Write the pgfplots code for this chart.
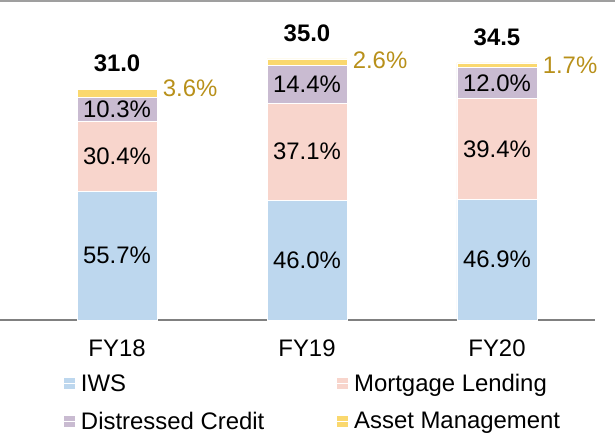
\documentclass[border=0pt]{standalone}
\usepackage{pgfplots}
\pgfplotsset{compat=1.18}
\usepackage{fontspec}
\setmainfont{Liberation Sans}
\definecolor{cIWS}{HTML}{BDD7EE}
\definecolor{cML}{HTML}{F8D5CC}
\definecolor{cDC}{HTML}{C9BBD1}
\definecolor{cAM}{HTML}{FAD86E}
\definecolor{cGold}{HTML}{B8901A}
\newcommand{\fs}{\fontsize{24}{28}\selectfont}
\begin{document}
\begin{tikzpicture}
\useasboundingbox (0,0) rectangle (615bp,433bp);
\draw[gray!75, line width=1.5bp] (0,432.2bp) -- (615bp,432.2bp);
\begin{axis}[
  at={(0bp,113bp)}, anchor=south west,
  scale only axis, width=595bp, height=300bp,
  xmin=-0.616, xmax=2.516, ymin=0, ymax=40.27,
  ybar stacked, bar width=80bp,
  hide y axis,
  axis x line*=bottom,
  x axis line style={gray, line width=1.2bp, -},
  xtick={0,1,2}, xticklabels={FY18,FY19,FY20},
  major tick length=0pt,
  xticklabel style={font=\fs, yshift=-16bp},
  legend columns=2,
  legend style={draw=none, fill=none, at={(63bp,-52bp)}, anchor=north west,
    font=\fs, inner sep=0pt, row sep=15bp,
    /tikz/every even column/.append style={column sep=70bp}},
  legend cell align=left,
  legend image code/.code={\fill[#1] (0bp,-6bp) rectangle (12bp,6bp); \path (0bp,0bp) -- (15bp,0bp);},
  clip=false,
]
\addplot[fill=cIWS, draw=white, line width=0.8bp] coordinates {(0,17.267) (1,16.1) (2,16.181)};
\addlegendentry{IWS}
\addplot[fill=cML, draw=white, line width=0.8bp] coordinates {(0,9.424) (1,12.985) (2,13.593)};
\addlegendentry{Mortgage Lending}
\addplot[fill=cDC, draw=white, line width=0.8bp] coordinates {(0,3.193) (1,5.04) (2,4.14)};
\addlegendentry{Distressed Credit}
\addplot[fill=cAM, draw=white, line width=0.8bp] coordinates {(0,1.116) (1,0.91) (2,0.5865)};
\addlegendentry{Asset Management}
\coordinate (a1) at (axis cs:0,8.63);
\coordinate (a2) at (axis cs:0,21.98);
\coordinate (a3) at (axis cs:0,28.29);
\coordinate (b1) at (axis cs:1,8.05);
\coordinate (b2) at (axis cs:1,22.59);
\coordinate (b3) at (axis cs:1,31.6);
\coordinate (c1) at (axis cs:2,8.09);
\coordinate (c2) at (axis cs:2,22.98);
\coordinate (c3) at (axis cs:2,31.84);
\coordinate (a4) at (axis cs:0.24,31.1);
\coordinate (b4) at (axis cs:1.24,34.9);
\coordinate (c4) at (axis cs:2.24,34.2);
\coordinate (a5) at (axis cs:0,33.28);
\coordinate (b5) at (axis cs:1,37.3);
\coordinate (c5) at (axis cs:2,36.78);
\end{axis}
\begin{scope}[every node/.style={font=\fs, inner sep=0pt}]
\node at (a1) {55.7\%};
\node at (a2) {30.4\%};
\node at (a3) {10.3\%};
\node at (b1) {46.0\%};
\node at (b2) {37.1\%};
\node at (b3) {14.4\%};
\node at (c1) {46.9\%};
\node at (c2) {39.4\%};
\node at (c3) {12.0\%};
\node[text=cGold, anchor=west] at (a4) {3.6\%};
\node[text=cGold, anchor=west] at (b4) {2.6\%};
\node[text=cGold, anchor=west] at (c4) {1.7\%};
\node[font=\fs\bfseries, anchor=south] at (a5) {31.0};
\node[font=\fs\bfseries, anchor=south] at (b5) {35.0};
\node[font=\fs\bfseries, anchor=south] at (c5) {34.5};
\end{scope}
\end{tikzpicture}
\end{document}
